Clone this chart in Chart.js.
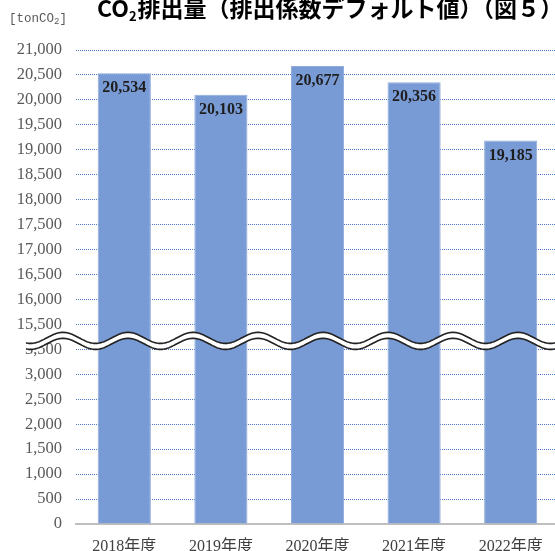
<!DOCTYPE html>
<html lang="ja">
<head>
<meta charset="utf-8">
<script src="https://cdn.jsdelivr.net/npm/chart.js@4"></script>
<style>
    html, body { margin: 0; padding: 0; background: #fff; overflow: hidden; }
    #wrap { width: 559px; height: 551px; position: relative; }
</style>
</head>
<body>
<div id="wrap"><canvas id="myChart"></canvas></div>
<script>
// データ
const years = ['2018年度', '2019年度', '2020年度', '2021年度', '2022年度'];
const emissions = [20534, 20103, 20677, 20356, 19185];

// 軸の省略（3,500 と 15,500 の間を詰める）
const breakLow = 3500;
const breakHigh = 15500;
const axisTop = 21000;
const tickStep = 500;
const shift = breakHigh - breakLow - tickStep;

function toAxis(v) {
    return v > breakLow ? v - shift : v;
}
function fromAxis(v) {
    return v > breakLow ? v + shift : v;
}
function fmt(v) {
    return v.toLocaleString('en-US');
}

const serif = '"Liberation Serif", "Noto Sans CJK JP", serif';

const labelPlugin = {
    id: 'labels',
    afterDatasetsDraw(chart) {
        const ctx = chart.ctx;
        const meta = chart.getDatasetMeta(0);
        ctx.save();
        ctx.font = 'bold 16px ' + serif;
        ctx.fillStyle = '#1e1e1e';
        ctx.textAlign = 'center';
        ctx.textBaseline = 'middle';
        meta.data.forEach((bar, i) => {
            ctx.fillText(fmt(emissions[i]), bar.x, bar.y + 15);
        });
        ctx.restore();
    }
};

const wavePlugin = {
    id: 'wave',
    afterDraw(chart) {
        const ctx = chart.ctx;
        const y = chart.scales.y;
        const mid = y.getPixelForValue(breakLow + tickStep / 2) + 4;
        const amp = 5.5;
        const period = 65;
        const gap = 3;
        const x0 = 26;
        const x1 = chart.width;
        const wy = (x, off) => mid + off - amp * Math.cos(2 * Math.PI * (x - 63) / period);

        ctx.save();
        ctx.beginPath();
        for (let x = x0; x <= x1; x++) {
            if (x === x0) ctx.moveTo(x, wy(x, -gap));
            else ctx.lineTo(x, wy(x, -gap));
        }
        for (let x = x1; x >= x0; x--) {
            ctx.lineTo(x, wy(x, gap));
        }
        ctx.closePath();
        ctx.fillStyle = '#fff';
        ctx.fill();

        ctx.strokeStyle = '#222';
        ctx.lineWidth = 1.6;
        [-gap, gap].forEach(off => {
            ctx.beginPath();
            for (let x = x0; x <= x1; x++) {
                if (x === x0) ctx.moveTo(x, wy(x, off));
                else ctx.lineTo(x, wy(x, off));
            }
            ctx.stroke();
        });
        ctx.restore();
    }
};

const titlePlugin = {
    id: 'titles',
    afterDraw(chart) {
        const ctx = chart.ctx;
        ctx.save();
        ctx.fillStyle = '#000';
        ctx.textBaseline = 'alphabetic';
        ctx.textAlign = 'left';
        let x = 97;
        ctx.font = 'bold 23px "Noto Sans CJK JP"';
        ctx.fillText('CO', x, 17);
        x += ctx.measureText('CO').width;
        ctx.font = 'bold 13px "Noto Sans CJK JP"';
        ctx.fillText('2', x, 21);
        x += ctx.measureText('2').width + 1;
        ctx.font = 'bold 23px "Noto Sans CJK JP"';
        ctx.fillText('排出量（排出係数デフォルト値）（図５）', x, 17);

        // 単位
        ctx.fillStyle = '#595959';
        ctx.textBaseline = 'middle';
        let ux = 9;
        ctx.font = '12.5px "Liberation Mono", monospace';
        ctx.fillText('[tonCO', ux, 19);
        ux += ctx.measureText('[tonCO').width;
        ctx.font = '9px "Liberation Mono", monospace';
        ctx.fillText('2', ux, 22);
        ux += ctx.measureText('2').width;
        ctx.font = '12.5px "Liberation Mono", monospace';
        ctx.fillText(']', ux, 19);
        ctx.restore();
    }
};

const data = {
    labels: years,
    datasets: [{
        label: 'CO2排出量',
        data: emissions.map(toAxis),
        backgroundColor: '#799BD5',
        borderColor: '#8FAADB',
        borderWidth: 1,
        barPercentage: 0.55,
        categoryPercentage: 1.0,
    }],
};

const config = {
    type: 'bar',
    data: data,
    options: {
        responsive: true,
        maintainAspectRatio: false,
        animation: false,
        layout: {
            padding: { top: 50, left: 0, right: 0, bottom: 0 }
        },
        plugins: {
            legend: { display: false },
            title: { display: false },
            tooltip: { enabled: false }
        },
        scales: {
            x: {
                offset: true,
                grid: { display: false, drawTicks: false },
                border: { display: true, color: '#BFBFBF', width: 2 },
                ticks: {
                    padding: 13,
                    color: '#404040',
                    font: { family: serif, size: 16 }
                },
                afterFit(scale) { scale.height = 27; }
            },
            y: {
                min: 0,
                max: toAxis(axisTop),
                grid: {
                    color: '#4F76C8',
                    lineWidth: 1,
                    drawTicks: false
                },
                border: { display: false, dash: [1, 1] },
                ticks: {
                    stepSize: tickStep,
                    padding: 14,
                    color: '#595959',
                    font: { family: serif, size: 16.5 },
                    callback: (v) => fmt(fromAxis(v))
                },
                afterFit(scale) { scale.width = 76; }
            }
        }
    },
    plugins: [labelPlugin, titlePlugin, wavePlugin]
};

const ctx = document.getElementById('myChart').getContext('2d');
new Chart(ctx, config);
</script>
</body>
</html>
